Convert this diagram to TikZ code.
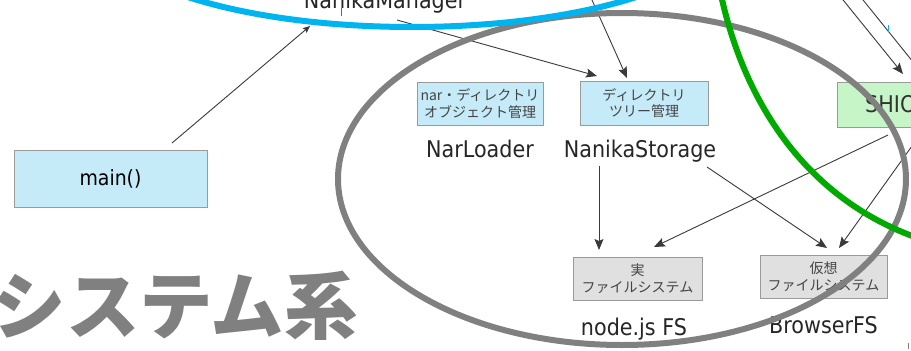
\documentclass[tikz,border=0pt]{standalone}
\usepackage{fontspec}
\setmainfont{DejaVu Sans}[FakeStretch=0.9]
\newfontfamily\cjk{Noto Sans CJK JP}
\usetikzlibrary{arrows.meta,calc}
\definecolor{boxblue}{HTML}{C5EAF8}
\definecolor{boxgreen}{HTML}{C6F5C8}
\definecolor{boxgray}{HTML}{E0E0E0}
\definecolor{boxline}{HTML}{9A9A9A}
\definecolor{ringblue}{HTML}{00B4F0}
\definecolor{ringgreen}{HTML}{00AA00}
\definecolor{ringgray}{HTML}{808080}
\definecolor{linkcol}{HTML}{3A3A3A}
\definecolor{jptext}{HTML}{444444}
\tikzset{
  boxbase/.style={draw=boxline, line width=0.9pt, inner sep=0pt, align=center},
  bluebox/.style={boxbase, fill=boxblue},
  greenbox/.style={boxbase, fill=boxgreen},
  graybox/.style={boxbase, fill=boxgray},
  jpsmall/.style={font=\cjk\fontsize{14}{16.5}\selectfont, text=jptext},
  biglabel/.style={font=\fontsize{23}{26}\selectfont, text=black!85, anchor=base, inner sep=0pt},
  link/.style={draw=linkcol, line width=0.9pt, -{Stealth[length=11pt,width=9pt,inset=2pt]}},
  linksmall/.style={draw=linkcol, line width=0.9pt, -{Stealth[length=7pt,width=6pt,inset=1pt]}},
  linkplain/.style={draw=linkcol, line width=0.9pt},
  ring/.style={line width=6pt}
}
\begin{document}
\begin{tikzpicture}[x=1pt,y=-1pt]
\useasboundingbox (0,0) rectangle (911,351);
\begin{scope}
\clip (0,0) rectangle (911,351);
\fill[white] (0,0) rectangle (911,351);

% big caption
\node[anchor=base east, inner sep=0pt, text=ringgray,
      font=\cjk\bfseries\fontsize{73.5}{80}\selectfont] (caption) at (358,333) {ファイルシステム系};

% boxes
\node[bluebox, minimum width=193pt, minimum height=57pt,
      font=\fontsize{21}{24}\selectfont] (main) at (110.5,178.5) {main()};
\node[bluebox, jpsmall, minimum width=126pt, minimum height=43pt] (narbox) at (480,103.5) {nar・ディレクトリ\\オブジェクト管理};
\node[bluebox, jpsmall, minimum width=128pt, minimum height=44pt] (nsbox) at (644,103) {ディレクトリ\\ツリー管理};
\node[greenbox, minimum width=128pt, minimum height=45pt,
      font=\fontsize{23}{26}\selectfont, text=black!80] (shiori) at (901,104.5) {SHIORI};
\node[graybox, jpsmall, minimum width=129pt, minimum height=43pt] (realfs) at (637.5,278.5) {実\\ファイルシステム};
\node[graybox, jpsmall, minimum width=127pt, minimum height=43pt] (virtfs) at (823.5,276.5) {仮想\\ファイルシステム};

% labels
\node[biglabel] (nm) at (385,8) {NanikaManager};
\node[biglabel] (narlabel) at (480,157) {NarLoader};
\node[biglabel] (nslabel) at (640,157) {NanikaStorage};
\node[biglabel] (nodefs) at (634,335) {node.js FS};
\node[biglabel] (browserfs) at (823.5,333) {BrowserFS};

% connector end points
\coordinate (mainout) at (172,143);
\coordinate (nmin) at (310,26);
\coordinate (nmout) at (397,20);
\coordinate (nsin1) at (597,76);
\coordinate (topsrc) at (587.5,-10);
\coordinate (nsin2) at (627,78);
\coordinate (topsrc2) at (835,-10);
\coordinate (shin1) at (903,74);
\coordinate (topsrc3) at (855,-10);
\coordinate (shin2) at (930,83);
\coordinate (nsout1) at (599,166);
\coordinate (realin1) at (599,250);
\coordinate (nsout2) at (707,167);
\coordinate (virtin1) at (827,248);
\coordinate (shout1) at (888,135);
\coordinate (realin2) at (654,247);
\coordinate (shout2) at (922,132);
\coordinate (virtin2) at (839,248);

% connectors
\draw[linksmall] (mainout) -- (nmin);
\draw[link] (nmout) -- (nsin1);
\draw[link] (topsrc) -- (nsin2);
\draw[link] (topsrc2) -- (shin1);
\draw[linkplain] (topsrc3) -- (shin2);
\draw[link] (nsout1) -- (realin1);
\draw[link] (nsout2) -- (virtin1);
\draw[link] (shout1) -- (realin2);
\draw[link] (shout2) -- (virtin2);

% tiny marks
\draw[draw=black!60, line width=0.8pt] (341,8) -- (341,16);
\draw[draw=ringblue, line width=1pt] (888,25) -- (888,32);
\draw[draw=black!50, line width=0.8pt] (908,343) -- (908,349);

% rings
\draw[ring, ringgray] (622,179) ellipse [x radius=284, y radius=166];
\draw[ring, ringgreen] (718,-20) .. controls (742,110) and (815,207) .. (930,242);
\draw[ring, ringblue] (412,-73) ellipse [x radius=314, y radius=100];
\end{scope}
\end{tikzpicture}
\end{document}
